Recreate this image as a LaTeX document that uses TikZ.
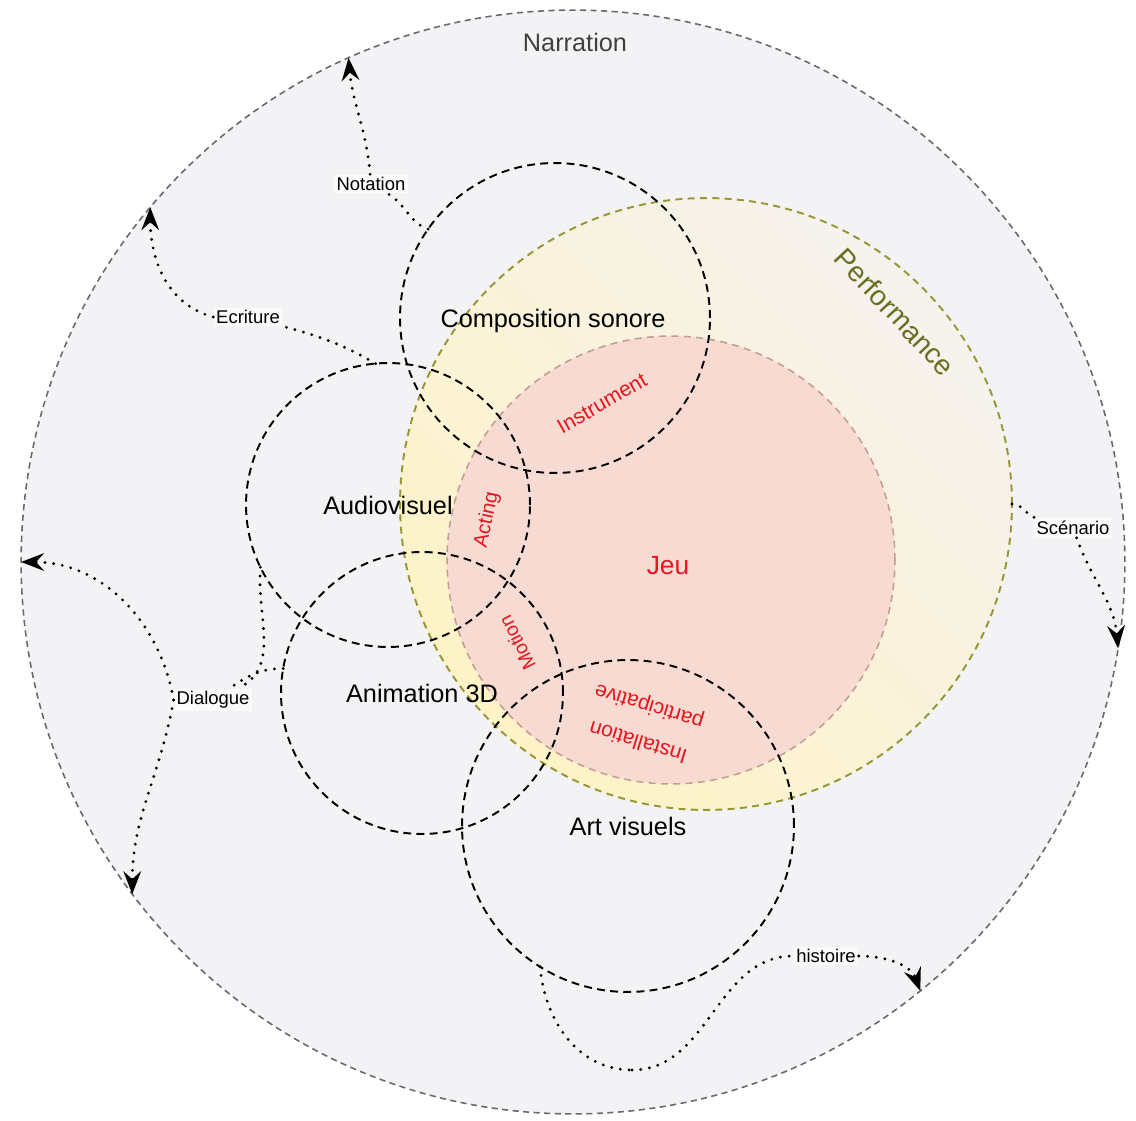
\documentclass[tikz,border=0pt]{standalone}
\usepackage{fontspec}
\setmainfont{Liberation Sans}
\usetikzlibrary{arrows.meta, positioning}

\definecolor{narrfill}{RGB}{243,243,245}
\definecolor{narrline}{RGB}{105,105,110}
\definecolor{perfline}{RGB}{150,150,50}
\definecolor{perfyellow}{RGB}{253,243,198}
\definecolor{perfpale}{RGB}{246,242,238}
\definecolor{perftext}{RGB}{105,110,35}
\definecolor{jeufill}{RGB}{247,219,210}
\definecolor{jeuline}{RGB}{196,158,148}
\definecolor{jeured}{RGB}{232,20,30}

\begin{document}
\begin{tikzpicture}[x=0.02cm, y=-0.02cm,
    zone/.style={circle, inner sep=0pt, outer sep=0pt},
    field/.style={zone, draw=black, line width=1.1pt, dash pattern=on 4.5pt off 3pt,
        font=\fontsize{14.4}{17}\selectfont},
    lbl/.style={font=\fontsize{10.5}{12}\selectfont, fill=narrfill!40!white, inner sep=1.5pt},
    redlbl/.style={text=jeured, font=\fontsize{12}{21}\selectfont, align=center},
    link/.style={line width=1.8pt, line cap=round, dash pattern=on 0pt off 5pt},
    arr/.style={-{Stealth[length=13pt, width=10pt, inset=4.5pt]}}]

    \useasboundingbox (0,0) rectangle (1136,1121);

    \node [zone, fill=narrfill, draw=narrline, line width=0.9pt, dash pattern=on 3.5pt off 2.5pt,
        minimum size=22.08cm] (narr) at (573,562) {};
    \node [zone, top color=perfpale, bottom color=perfyellow, shading angle=-45,
        draw=perfline, line width=1.1pt, dash pattern=on 4pt off 3pt,
        minimum size=12.24cm] (perf) at (706,504) {};
    \node [zone, fill=jeufill, draw=jeuline, line width=0.9pt, dash pattern=on 4pt off 3pt,
        minimum size=8.96cm] (jeu) at (671,560) {};

    \node [field, minimum size=6.2cm] (son) at (555,318) {};
    \node [field, minimum size=5.68cm] (av) at (388,505) {Audiovisuel};
    \node [field, minimum size=5.64cm] (anim) at (422,693) {Animation 3D};
    \node [field, minimum size=6.64cm] (art) at (628,826) {Art visuels};

    \node [font=\fontsize{14.4}{17}\selectfont] (sontxt) at (553,321) {Composition sonore};
    \node [text=jeured, font=\fontsize{15}{18}\selectfont] (jeutxt) at (668,566) {Jeu};
    \node [text=black!75, font=\fontsize{14.4}{17}\selectfont] (narrtxt) at (575,42) {Narration};
    \node [text=perftext, rotate=-47, font=\fontsize{16}{19}\selectfont] (perftxt) at (895,312) {Performance};

    \node [redlbl, rotate=30] (instr) at (602,403) {Instrument};
    \node [redlbl, rotate=78, font=\fontsize{11.5}{14}\selectfont] (acting) at (487,520) {Acting};
    \node [redlbl, rotate=117, font=\fontsize{11}{13}\selectfont] (motion) at (517,643) {Motion};
    \node [redlbl, rotate=163] (instal) at (644,723) {Installation\\participative};

    \node [lbl] (nota) at (371,184) {Notation};
    \node [lbl] (ecri) at (248,317) {Ecriture};
    \node [lbl] (dial) at (213,700) {Dialogue};
    \node [lbl] (scen) at (1073,528) {Scénario};
    \node [lbl] (hist) at (826,956) {histoire};
    \coordinate (hbot) at (632,1070);

    \path [link]
      (son.145) edge [out=160, in=-30] (nota)
      (nota) edge [arr, out=95, in=-85] (narr.114.5)
      (av.95) edge [out=150, in=-15] (ecri)
      (ecri.west) edge [arr, out=165, in=-90] (narr.140.6)
      (av.206) edge [out=-95, in=25] (dial)
      (anim.170) edge [out=180, in=35] (dial)
      (dial.west) edge [arr, out=100, in=0] (narr.180)
      (dial.west) edge [arr, out=-100, in=90] (narr.217)
      (perf.0) edge [out=0, in=165] (scen)
      (scen) edge [arr, out=-70, in=95] (narr.-9.7)
      (art.238) edge [out=-85, in=180] (hbot)
      (hbot) edge [out=0, in=180] (hist)
      (hist) edge [arr, out=0, in=110] (narr.-51.8);
\end{tikzpicture}
\end{document}
